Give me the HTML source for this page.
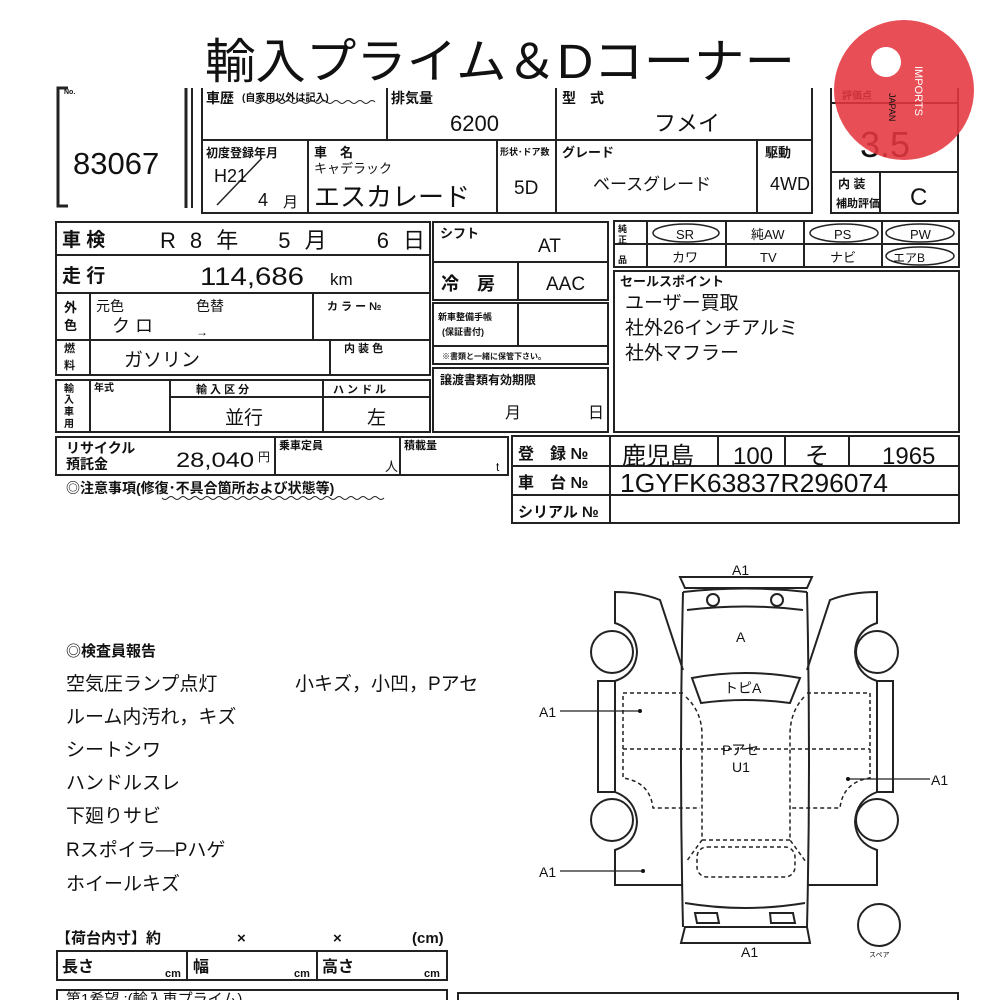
<!DOCTYPE html>
<html><head><meta charset="utf-8"><style>
html,body{margin:0;padding:0;background:#fff;}
svg{display:block;}
text{font-family:"Liberation Sans","Noto Sans CJK JP",sans-serif;fill:#111;}
.b{font-weight:bold;}
</style></head><body>
<svg width="1000" height="1000" viewBox="0 0 1000 1000" xmlns="http://www.w3.org/2000/svg">
<g stroke="#222" fill="none" stroke-width="2">
<path d="M68 88 H58 V206 H68" stroke-width="3"/>
<line x1="186" y1="88" x2="186" y2="208" stroke-width="3"/>
<line x1="192" y1="88" x2="192" y2="208" stroke-width="2"/>
<path d="M202 88 V213 H812 V140 H202 M387 88 V140 M556 88 V213 M308 140 V213 M497 140 V213 M757 140 V213 M812 140 V88"/>
<path d="M217 205 L262 158" stroke-width="1.5"/>
<path d="M831 88 V213 H958 V88 M831 172 H958 M880 172 V213 M831 103 H958" />
<rect x="56" y="222" width="374" height="33"/>
<path d="M56 255 V293 H430 V255 M56 293 V340 H430 V293 M90 293 V375 M313 293 V340 M56 340 V375 H430 V340 M330 340 V375"/>
<path d="M56 380 V432 H430 V380 Z M90 380 V432 M170 380 V432 M323 380 V432 M170 397 H430"/>
<path d="M433 222 H608 V300 H433 Z M433 262 H608 M518 262 V300"/>
<path d="M433 303 H608 V364 H433 Z M433 346 H608 M518 303 V346"/>
<rect x="433" y="368" width="175" height="64"/>
<path d="M614 221 H959 V267 H614 Z M614 244 H959 M647 221 V267 M726 221 V267 M804 221 V267 M882 221 V267"/>
<rect x="614" y="271" width="345" height="161"/>
<path d="M56 437 H508 V475 H56 Z M275 437 V475 M400 437 V475"/>
<path d="M512 436 H959 V523 H512 Z M512 466 H959 M512 495 H959 M610 436 V523 M718 436 V466 M785 436 V466 M849 436 V466"/>
<g stroke-width="1.5">
<ellipse cx="686" cy="233" rx="33" ry="9"/>
<ellipse cx="844" cy="233" rx="34" ry="9"/>
<ellipse cx="920" cy="233" rx="34" ry="9"/>
<ellipse cx="920" cy="256" rx="34" ry="9"/>
</g>
<path d="M255 102 q3 3 6 0 t6 0 t6 0 t6 0 t6 0 t6 0 t6 0 t6 0 t6 0 t6 0 t6 0 t6 0 t6 0 t6 0 t6 0 t6 0 t6 0 t6 0 t6 0 t6 0" stroke-width="1"/>
<path d="M162 498 q3 3 6 0 t6 0 t6 0 t6 0 t6 0 t6 0 t6 0 t6 0 t6 0 t6 0 t6 0 t6 0 t6 0 t6 0 t6 0 t6 0 t6 0 t6 0 t6 0 t6 0 t6 0 t6 0 t6 0 t6 0 t6 0 t6 0 t6 0 t6 0 t6 0 t6 0 t6 0 t6 0 t6 0 t6 0 t6 0 t6 0 t6 0" stroke-width="1"/>
<path d="M57 951 H447 V980 H57 Z M187 951 V980 M317 951 V980"/>
<path d="M57 1002 V990 H447 V1002"/>
<path d="M458 1002 V993 H958 V1002"/>
<path d="M680 577 H812 L807 588 H685 Z"/>
<path d="M683 592 Q745 585 807 592"/>
<path d="M683 592 Q679 760 683 927 M807 592 Q811 760 807 927"/>
<path d="M687 610 Q745 603 803 610"/>
<circle cx="713" cy="600" r="6"/><circle cx="777" cy="600" r="6"/>
<path d="M692 678 Q745 668 800 678 L790 703 Q745 697 701 703 Z"/>
<path d="M685 903 Q745 913 805 903"/>
<path d="M695 913 H717 L719 923 H697 Z M770 913 H793 L795 923 H771 Z"/>
<path d="M685 927 H807 L810 943 H681 Z"/>
<path d="M683 670 L660 600 Q640 592 615 592 V623 Q636 630 637 652 Q636 674 615 681 H598 V792 H615 Q636 800 637 822 Q636 843 615 850 V885 H683"/>
<line x1="615" y1="681" x2="615" y2="792"/>
<path d="M807 670 L830 600 Q850 592 877 592 V623 Q856 630 855 652 Q856 674 877 681 H893 V792 H877 Q856 800 855 822 Q856 843 877 850 V885 H807"/>
<line x1="877" y1="681" x2="877" y2="792"/>
<circle cx="612" cy="652" r="21"/><circle cx="612" cy="820" r="21"/>
<circle cx="877" cy="652" r="21"/><circle cx="877" cy="820" r="21"/>
<circle cx="879" cy="925" r="21"/>
<g stroke-dasharray="4 3" stroke-width="1.5">
<path d="M683 693 H623 V778 Q650 782 653 808 H700"/>
<path d="M807 693 H870 V778 Q843 782 840 808 H790"/>
<path d="M623 749 H870"/>
<path d="M686 697 Q702 712 702 735 V840 L686 862"/>
<path d="M804 697 Q790 712 790 735 V840 L806 862"/>
<path d="M702 840 H790"/>
<rect x="697" y="847" width="98" height="30" rx="10"/>
</g>
<g stroke-width="1.2">
<line x1="560" y1="711" x2="640" y2="711"/>
<line x1="560" y1="871" x2="643" y2="871"/>
<line x1="848" y1="779" x2="930" y2="779"/>
</g>
</g>
<g fill="#111"><circle cx="640" cy="711" r="2"/><circle cx="643" cy="871" r="2"/><circle cx="848" cy="779" r="2"/></g>

<text x="500" y="78" font-size="48" text-anchor="middle" textLength="590" lengthAdjust="spacingAndGlyphs">輸入プライム＆Dコーナー</text>
<text x="64" y="94" font-size="7" class="b">No.</text>
<text x="73" y="174" font-size="31">83067</text>

<text x="206" y="103" font-size="14" class="b">車歴</text><text x="242" y="101" font-size="10" class="b">(自家用以外は記入)</text>
<text x="391" y="103" font-size="14" class="b">排気量</text>
<text x="450" y="131" font-size="22">6200</text>
<text x="562" y="103" font-size="14" class="b">型　式</text>
<text x="654" y="131" font-size="22">フメイ</text>
<text x="206" y="157" font-size="12" class="b">初度登録年月</text>
<text x="214" y="182" font-size="18">H21</text>
<text x="258" y="206" font-size="18">4</text><text x="283" y="207" font-size="15">月</text>
<text x="314" y="157" font-size="13" class="b">車　名</text>
<text x="314" y="173" font-size="13">キャデラック</text>
<text x="314" y="206" font-size="26">エスカレード</text>
<text x="500" y="155" font-size="9" class="b">形状･ドア数</text>
<text x="514" y="194" font-size="19">5D</text>
<text x="562" y="157" font-size="13" class="b">グレード</text>
<text x="593" y="190" font-size="17">ベースグレード</text>
<text x="765" y="157" font-size="13" class="b">駆動</text>
<text x="770" y="190" font-size="18">4WD</text>

<text x="842" y="99" font-size="10" class="b">評価点</text>
<text x="860" y="157" font-size="36">3.5</text>
<text x="838" y="188" font-size="12" class="b">内 装</text>
<text x="836" y="207" font-size="11" class="b">補助評価</text>
<text x="910" y="205" font-size="24">C</text>
<circle cx="904" cy="90" r="70" fill="#e5353d" fill-opacity="0.88"/>
<circle cx="886" cy="62" r="15" fill="#fff"/>
<text x="918" y="66" font-size="11" style="fill:#fff" writing-mode="tb">IMPORTS</text>
<text x="892" y="93" font-size="9" writing-mode="tb">JAPAN</text>

<text x="62" y="246" font-size="19" class="b">車 検</text>
<text x="160" y="248" font-size="22" textLength="265" lengthAdjust="spacing">R 8 年　 5 月 　 6 日</text>
<text x="62" y="282" font-size="19" class="b">走 行</text>
<text x="200" y="285" font-size="25" textLength="104" lengthAdjust="spacingAndGlyphs">114,686</text><text x="330" y="285" font-size="17">km</text>
<text x="64" y="312" font-size="13" class="b">外</text><text x="64" y="330" font-size="13" class="b">色</text>
<text x="96" y="311" font-size="14">元色</text><text x="196" y="311" font-size="14">色替</text>
<text x="112" y="332" font-size="18">ク ロ</text><text x="196" y="336" font-size="12">→</text>
<text x="327" y="310" font-size="11" class="b">カ ラ ー №</text>
<text x="64" y="352" font-size="11" class="b">燃</text><text x="64" y="369" font-size="11" class="b">料</text>
<text x="124" y="366" font-size="19">ガソリン</text>
<text x="344" y="352" font-size="11" class="b">内 装 色</text>
<text x="64" y="392" font-size="10" class="b">輸</text><text x="64" y="403" font-size="10" class="b">入</text><text x="64" y="415" font-size="10" class="b">車</text><text x="64" y="427" font-size="10" class="b">用</text>
<text x="94" y="391" font-size="10" class="b">年式</text>
<text x="196" y="393" font-size="11" class="b">輸 入 区 分</text>
<text x="333" y="393" font-size="11" class="b">ハ ン ド ル</text>
<text x="225" y="424" font-size="19">並行</text>
<text x="367" y="424" font-size="19">左</text>

<text x="440" y="238" font-size="13" class="b">シフト</text>
<text x="538" y="252" font-size="19">AT</text>
<text x="441" y="290" font-size="18" class="b">冷　房</text>
<text x="546" y="290" font-size="19">AAC</text>
<text x="438" y="320" font-size="9" class="b">新車整備手帳</text>
<text x="442" y="335" font-size="9" class="b">(保証書付)</text>
<text x="442" y="359" font-size="8" class="b">※書類と一緒に保管下さい。</text>
<text x="440" y="384" font-size="12" class="b">譲渡書類有効期限</text>
<text x="505" y="418" font-size="16">月</text><text x="588" y="418" font-size="16">日</text>

<text x="618" y="232" font-size="9" class="b">純</text><text x="618" y="243" font-size="9" class="b">正</text><text x="618" y="263" font-size="9" class="b">品</text>
<text x="676" y="239" font-size="13">SR</text>
<text x="751" y="239" font-size="13">純AW</text>
<text x="834" y="239" font-size="13">PS</text>
<text x="910" y="239" font-size="13">PW</text>
<text x="672" y="262" font-size="13">カワ</text>
<text x="760" y="262" font-size="13">TV</text>
<text x="830" y="262" font-size="13">ナビ</text>
<text x="893" y="262" font-size="12">エアB</text>
<text x="620" y="286" font-size="13" class="b">セールスポイント</text>
<text x="625" y="309" font-size="19">ユーザー買取</text>
<text x="625" y="334" font-size="19">社外26インチアルミ</text>
<text x="625" y="359" font-size="19">社外マフラー</text>

<text x="66" y="453" font-size="14" class="b">リサイクル</text>
<text x="66" y="469" font-size="14" class="b">預託金</text>
<text x="176" y="467" font-size="21" textLength="78" lengthAdjust="spacingAndGlyphs">28,040</text><text x="258" y="461" font-size="12">円</text>
<text x="279" y="449" font-size="11" class="b">乗車定員</text>
<text x="385" y="471" font-size="13">人</text>
<text x="404" y="449" font-size="11" class="b">積載量</text>
<text x="496" y="471" font-size="12">t</text>
<text x="66" y="493" font-size="14" class="b">◎注意事項(修復･不具合箇所および状態等)</text>

<text x="518" y="459" font-size="16" class="b">登　録 №</text>
<text x="518" y="488" font-size="16" class="b">車　台 №</text>
<text x="518" y="517" font-size="15" class="b">シリアル №</text>
<text x="622" y="464" font-size="24">鹿児島</text>
<text x="733" y="464" font-size="24">100</text>
<text x="805" y="464" font-size="24">そ</text>
<text x="882" y="464" font-size="24">1965</text>
<text x="620" y="492" font-size="26" textLength="268" lengthAdjust="spacingAndGlyphs">1GYFK63837R296074</text>

<text x="66" y="656" font-size="15" class="b">◎検査員報告</text>
<g font-size="19">
<text x="66" y="690">空気圧ランプ点灯</text>
<text x="295" y="690">小キズ，小凹，Pアセ</text>
<text x="66" y="723">ルーム内汚れ，キズ</text>
<text x="66" y="756">シートシワ</text>
<text x="66" y="789">ハンドルスレ</text>
<text x="66" y="822">下廻りサビ</text>
<text x="66" y="856">Rスポイラ―Pハゲ</text>
<text x="66" y="890">ホイールキズ</text>
</g>
<text x="56" y="943" font-size="15" class="b">【荷台内寸】約</text>
<text x="237" y="943" font-size="15" class="b">×</text>
<text x="333" y="943" font-size="15" class="b">×</text>
<text x="412" y="943" font-size="15" class="b">(cm)</text>
<text x="62" y="972" font-size="16" class="b">長さ</text><text x="165" y="977" font-size="11" class="b">cm</text>
<text x="193" y="972" font-size="16" class="b">幅</text><text x="294" y="977" font-size="11" class="b">cm</text>
<text x="322" y="972" font-size="16" class="b">高さ</text><text x="424" y="977" font-size="11" class="b">cm</text>
<text x="66" y="1004" font-size="15">第1希望 :(輸入車プライム)</text>

<text x="732" y="575" font-size="14">A1</text>
<text x="736" y="642" font-size="14">A</text>
<text x="724" y="693" font-size="14">トピA</text>
<text x="722" y="755" font-size="14">Pアセ</text>
<text x="732" y="772" font-size="14">U1</text>
<text x="539" y="717" font-size="14">A1</text>
<text x="539" y="877" font-size="14">A1</text>
<text x="931" y="785" font-size="14">A1</text>
<text x="741" y="957" font-size="14">A1</text>
<text x="869" y="957" font-size="7">スペア</text>
</svg>
</body></html>
